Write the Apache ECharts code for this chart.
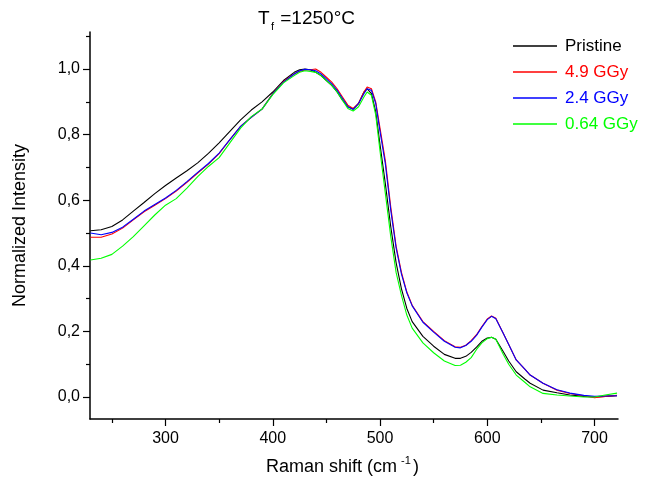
<!DOCTYPE html>
<html><head><meta charset="utf-8">
<script src="https://cdn.jsdelivr.net/npm/echarts@6/dist/echarts.min.js"></script>
<style>html,body{margin:0;padding:0;background:#fff}#c{width:654px;height:485px}</style>
</head><body><div id="c"></div>
<script>
const ramanShift = [230,240,250,260,270,280,290,300,310,320,330,340,350,360,370,380,390,400,410,420,
  425,430,435,440,445,450,455,460,465,470,475,480,485,488,492,496,500,
  505,510,515,520,525,530,
  540,550,560,570,
  575,580,585,590,595,600,604,608,
  615,620,627,635,640,652,665,677,690,700,710,721];
const pristine = [0.507,0.51,0.52,0.54,0.567,0.593,0.62,0.645,0.668,0.69,0.714,0.743,0.775,0.81,0.845,0.875,0.90,0.93,0.965,0.99,
  0.998,1.0,0.998,0.99,0.98,0.965,0.95,0.93,0.905,0.885,0.878,0.895,0.93,0.94,0.925,0.87,0.77,
  0.65,0.52,0.41,0.33,0.27,0.23,
  0.185,0.155,0.13,0.118,
  0.118,0.124,0.136,0.152,0.17,0.18,0.182,0.176,
  0.138,0.11,0.077,0.055,0.042,0.021,0.013,0.006,0.002,0.0,0.002,0.004];
const gGy49 = [0.487,0.487,0.497,0.515,0.54,0.565,0.585,0.605,0.628,0.655,0.683,0.71,0.742,0.785,0.825,0.853,0.878,0.925,0.962,0.985,
  0.993,0.997,0.998,1.0,0.99,0.975,0.96,0.94,0.915,0.89,0.88,0.895,0.93,0.945,0.94,0.9,0.82,
  0.72,0.58,0.46,0.38,0.32,0.28,
  0.23,0.2,0.172,0.153,
  0.152,0.158,0.172,0.19,0.215,0.238,0.247,0.24,
  0.194,0.16,0.113,0.085,0.067,0.042,0.021,0.011,0.004,-0.002,0.002,0.005];
const gGy24 = [0.50,0.495,0.502,0.518,0.542,0.567,0.587,0.607,0.63,0.657,0.685,0.712,0.744,0.785,0.825,0.853,0.878,0.924,0.96,0.985,
  0.995,0.999,0.998,0.995,0.985,0.97,0.955,0.935,0.91,0.885,0.877,0.895,0.925,0.94,0.935,0.895,0.81,
  0.71,0.57,0.455,0.375,0.318,0.278,
  0.228,0.198,0.17,0.152,
  0.15,0.157,0.17,0.188,0.213,0.236,0.246,0.239,
  0.194,0.16,0.113,0.085,0.067,0.042,0.022,0.012,0.005,0.002,0.003,0.004];
const gGy064 = [0.418,0.423,0.435,0.46,0.489,0.522,0.555,0.585,0.605,0.637,0.672,0.703,0.73,0.775,0.82,0.855,0.878,0.922,0.958,0.98,
  0.99,0.995,0.993,0.99,0.98,0.965,0.95,0.93,0.905,0.88,0.872,0.885,0.915,0.93,0.92,0.86,0.75,
  0.62,0.49,0.38,0.31,0.25,0.21,
  0.165,0.135,0.11,0.096,
  0.097,0.106,0.12,0.145,0.165,0.178,0.182,0.176,
  0.13,0.10,0.067,0.045,0.031,0.011,0.006,0.003,0.0,0.0,0.006,0.012];
const seriesNames = ['Pristine','4.9 GGy','2.4 GGy','0.64 GGy'];
const seriesColors = ['#000000','#ff0000','#0000ff','#00ff00'];
const xMajor = [300,400,500,600,700];
const xMinor = [250,350,450,550,650];
const yMajor = [0,0.2,0.4,0.6,0.8,1.0];
const yMinor = [0.1,0.3,0.5,0.7,0.9,1.1];

const FONT = 'Liberation Sans, Arial, sans-serif';
const xMin = 229.6, xMax = 721.9, yMin = -0.067, yMax = 1.113;
const values = [pristine, gGy49, gGy24, gGy064];

const chart = echarts.init(document.getElementById('c'), null, {renderer:'canvas'});
const axisLine = {show:true, onZero:false, lineStyle:{color:'#000', width:1.5}};
chart.setOption({
  animation:false,
  backgroundColor:'#fff',
  grid:{left:90, right:36, top:32, bottom:66},
  legend:{
    orient:'vertical', left:508, top:31, itemWidth:44, itemHeight:1.5, itemGap:6, icon:'rect',
    textStyle:{fontFamily:FONT, fontSize:17, lineHeight:20, padding:[0,0,0,3]},
    data: seriesNames.map((n,i)=>({name:n, itemStyle:{color:seriesColors[i]}, textStyle:{color:seriesColors[i]}}))
  },
  xAxis:[
    {type:'value', min:xMin, max:xMax, position:'bottom',
     axisLine:axisLine, splitLine:{show:false},
     axisTick:{show:true, customValues:xMajor, length:7, inside:false, lineStyle:{color:'#000', width:1.2}},
     axisLabel:{customValues:xMajor, margin:12, fontFamily:FONT, fontSize:16, color:'#000'}},
    {type:'value', min:xMin, max:xMax, position:'bottom', gridIndex:0,
     axisLine:{show:false, onZero:false}, splitLine:{show:false},
     axisTick:{show:true, customValues:xMinor, length:4, lineStyle:{color:'#000', width:1.2}},
     axisLabel:{show:false}}
  ],
  yAxis:[
    {type:'value', min:yMin, max:yMax, position:'left',
     axisLine:axisLine, splitLine:{show:false},
     axisTick:{show:true, customValues:yMajor, length:7, lineStyle:{color:'#000', width:1.2}},
     axisLabel:{customValues:yMajor, margin:10, fontFamily:FONT, fontSize:16, color:'#000',
       formatter:v=>v.toFixed(1).replace('.',',')},
     name:'Normalized Intensity', nameLocation:'middle', nameGap:61,
     nameTextStyle:{fontFamily:FONT, fontSize:18, color:'#000'}},
    {type:'value', min:yMin, max:yMax, position:'left',
     axisLine:{show:false, onZero:false}, splitLine:{show:false},
     axisTick:{show:true, customValues:yMinor, length:4, lineStyle:{color:'#000', width:1.2}},
     axisLabel:{show:false}}
  ],
  graphic:[
    {type:'text', left:258, top:9, style:{text:'T', font:'19px '+FONT, fill:'#000'}},
    {type:'text', left:271, top:21, style:{text:'f', font:'11px '+FONT, fill:'#000'}},
    {type:'text', left:275, top:9, style:{text:' =1250°C', font:'19px '+FONT, fill:'#000'}},
    {type:'text', left:266, top:458, style:{text:'Raman shift (cm', font:'18px '+FONT, fill:'#000'}},
    {type:'text', left:401, top:455, style:{text:'-1', font:'11px '+FONT, fill:'#000'}},
    {type:'text', left:413, top:458, style:{text:')', font:'18px '+FONT, fill:'#000'}}
  ],
  series: seriesNames.map((n,i)=>({
    name:n, type:'line', xAxisIndex:0, yAxisIndex:0, symbol:'none', showSymbol:false,
    lineStyle:{color:seriesColors[i], width:1.1}, itemStyle:{color:seriesColors[i]},
    data: ramanShift.map((x,k)=>[x, values[i][k]])
  }))
});
</script></body></html>
